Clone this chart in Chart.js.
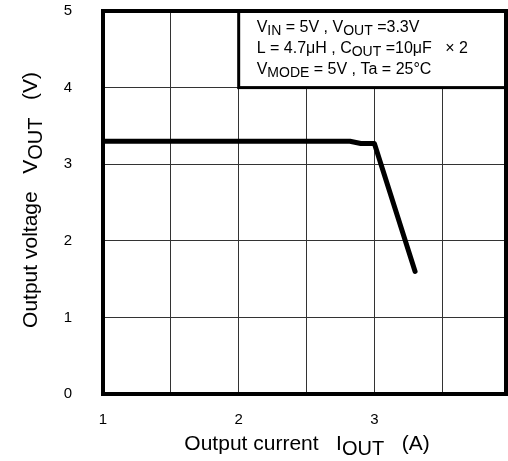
<!DOCTYPE html>
<html>
<head>
<meta charset="utf-8">
<style>
	html, body { margin: 0; padding: 0; background: #fff; }
	#wrap { width: 508px; height: 461px; }
</style>
<script src="https://cdn.jsdelivr.net/npm/chart.js@4.4.0/dist/chart.umd.min.js"></script>
</head>
<body>
<div id="wrap"><canvas id="chart" width="508" height="461"></canvas></div>
<script>
// values
var currentA = [1.0, 2.82, 2.9, 3.0, 3.3];
var voltageV = [3.3, 3.3, 3.27, 3.27, 1.6];

var xTickLabels = ['1', '2', '3'];
var yTickLabels = ['0', '1', '2', '3', '4', '5'];

// [text, isSubscript]
var noteLines = [
	[['V'], ['IN', 1], [' = 5V , V'], ['OUT', 1], [' =3.3V']],
	[['L = 4.7\u03bcH , C'], ['OUT', 1], [' =10\u03bcF   \u00d7 2']],
	[['V'], ['MODE', 1], [' = 5V , Ta = 25\u00b0C']]
];
var xTitle = [['Output current   I'], ['OUT', 1], ['   (A)']];
var yTitle = [['Output voltage   V'], ['OUT', 1], ['   (V)']];

var FONT = '"Liberation Sans", Arial, sans-serif';

function partsWidth(ctx, parts, size, subSize) {
	var w = 0;
	parts.forEach(function(p) {
		ctx.font = (p[1] ? subSize : size) + 'px ' + FONT;
		w += ctx.measureText(p[0]).width;
	});
	return w;
}

function drawParts(ctx, parts, x, y, size, subSize, drop) {
	parts.forEach(function(p) {
		ctx.font = (p[1] ? subSize : size) + 'px ' + FONT;
		ctx.fillText(p[0], x, y + (p[1] ? drop : 0));
		x += ctx.measureText(p[0]).width;
	});
}

// tick padding would otherwise push the plot area in
function noScalePadding(scale) {
	scale.paddingTop = 0;
	scale.paddingBottom = 0;
	scale.paddingLeft = 0;
	scale.paddingRight = 0;
}

var extras = {
	id: 'extras',
	afterDatasetsDraw: function(chart) {
		var ctx = chart.ctx;
		var area = chart.chartArea;
		var xs = chart.scales.x;
		var ys = chart.scales.y;

		ctx.save();
		// condition box, top right
		var bx = xs.getPixelForValue(2);
		var by = ys.getPixelForValue(4);
		ctx.fillStyle = '#fff';
		ctx.fillRect(bx, area.top, area.right - bx, by - area.top);
		ctx.strokeStyle = '#000';
		ctx.lineWidth = 3;
		ctx.strokeRect(bx, area.top, area.right - bx, by - area.top);

		ctx.fillStyle = '#000';
		ctx.textBaseline = 'alphabetic';
		ctx.textAlign = 'left';
		noteLines.forEach(function(line, i) {
			drawParts(ctx, line, bx + 18, area.top + 21 + i * 21, 16, 14, 3);
		});

		// plot frame
		ctx.lineWidth = 4;
		ctx.strokeRect(area.left, area.top, area.right - area.left, area.bottom - area.top);

		// axis titles
		var w = partsWidth(ctx, xTitle, 21, 20);
		drawParts(ctx, xTitle, 307 - w / 2, 450, 21, 20, 5);

		w = partsWidth(ctx, yTitle, 21, 20);
		ctx.translate(37, 200);
		ctx.rotate(-Math.PI / 2);
		drawParts(ctx, yTitle, -w / 2, 0, 21, 20, 5);
		ctx.restore();
	}
};

Chart.defaults.font.family = FONT;
Chart.defaults.color = '#000';

var chart = new Chart(document.getElementById('chart').getContext('2d'), {
	type: 'line',
	data: {
		datasets: [{
			data: currentA.map(function(x, i) { return { x: x, y: voltageV[i] }; }),
			borderColor: '#000',
			borderWidth: 5,
			borderJoinStyle: 'round',
			borderCapStyle: 'round',
			pointRadius: 0,
			tension: 0,
			fill: false
		}]
	},
	options: {
		responsive: false,
		animation: false,
		layout: { padding: { top: 11, right: 2, left: 0, bottom: 0 } },
		plugins: {
			legend: { display: false },
			tooltip: { enabled: false }
		},
		scales: {
			x: {
				type: 'linear',
				min: 1,
				max: 3.97,
				afterFit: function(scale) {
					scale.height = 67;
					noScalePadding(scale);
				},
				border: { display: false },
				grid: { color: '#333', lineWidth: 1, drawTicks: false },
				ticks: {
					stepSize: 0.5,
					padding: 17,
					maxRotation: 0,
					autoSkip: false,
					font: { size: 15 },
					callback: function(v) {
						var r = Math.round(v);
						if (Math.abs(v - r) > 1e-6) return '';
						return xTickLabels.indexOf(String(r)) >= 0 ? String(r) : '';
					}
				}
			},
			y: {
				min: 0,
				max: 5,
				afterFit: function(scale) {
					scale.width = 103;
					noScalePadding(scale);
				},
				border: { display: false },
				grid: { color: '#333', lineWidth: 1, drawTicks: false },
				ticks: {
					stepSize: 1,
					padding: 31,
					font: { size: 15 },
					callback: function(v) {
						return yTickLabels[Math.round(v)] || '';
					}
				}
			}
		}
	},
	plugins: [extras]
});
</script>
</body>
</html>
